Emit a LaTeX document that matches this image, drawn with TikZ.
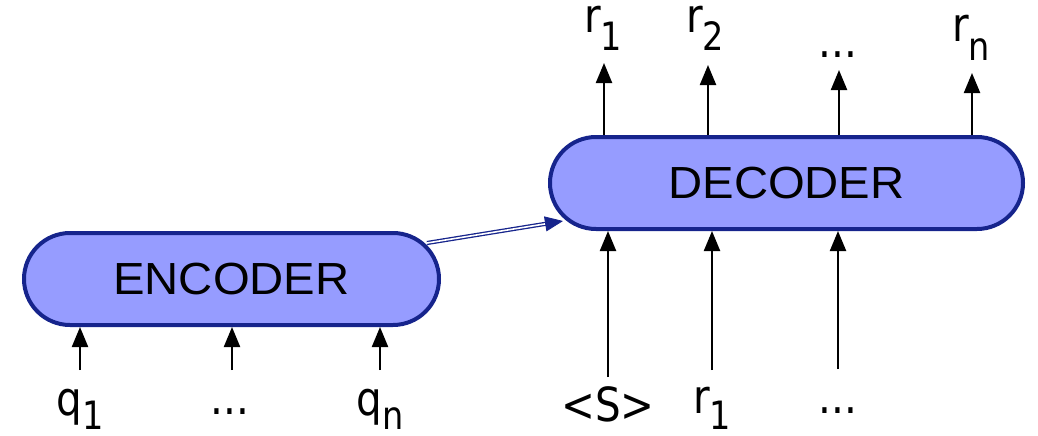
\documentclass[tikz,border=0pt]{standalone}
\usepackage{fontspec}
\usetikzlibrary{arrows.meta,calc}
\newfontfamily\lblfont[FakeStretch=0.86]{DejaVu Sans}
\newfontfamily\boxfont[FakeStretch=1.05]{Liberation Sans}
\definecolor{boxfill}{RGB}{150,156,255}
\definecolor{boxline}{RGB}{22,36,140}
% token with a lowered index
\newcommand{\tok}[3][18pt]{{\fontsize{47}{47}\selectfont #2}\raisebox{-#1}{\fontsize{39}{39}\selectfont #3}}
\newcommand{\dotsym}{{\fontsize{47}{47}\selectfont ...}}
\begin{document}
\begin{tikzpicture}[x=1pt,y=-1pt,
  pill/.style={draw=boxline, fill=boxfill, line width=4pt, rounded corners=46pt,
    minimum height=92pt, inner sep=0pt, font=\boxfont\fontsize{45}{45}\selectfont},
  lbl/.style={anchor=base, inner sep=0pt, font=\lblfont},
  arr/.style={-{Triangle[length=20pt,width=16pt]}, line width=2.2pt, black}]
\useasboundingbox (0,0) rectangle (1038,436);

% the two blocks
\node[pill, minimum width=415pt] (enc) at (231.5,279) {ENCODER};
\node[pill, minimum width=473pt] (dec) at (786.5,183) {DECODER};

% encoder inputs
\node[lbl] (q1) at (80,415) {\tok[14pt]{q}{1}};
\node[lbl] (qd) at (230,414) {\dotsym};
\node[lbl] (qn) at (380,415) {\tok[14pt]{q}{n}};
\coordinate (qa1) at (80,370);
\coordinate (qad) at (232,370);
\coordinate (qan) at (380,370);
\draw[arr] (qa1) -- (qa1 |- enc.south);
\draw[arr] (qad) -- (qad |- enc.south);
\draw[arr] (qan) -- (qan |- enc.south);

% decoder inputs
\node[lbl] (s0) at (608,421) {{\fontsize{47}{47}\selectfont <S>}};
\node[lbl] (ri1) at (712,413) {\tok[16pt]{r}{1}};
\node[lbl] (rid) at (838,413) {\dotsym};
\coordinate (da0) at (608,377);
\coordinate (da1) at (712,370);
\coordinate (dad) at (838,369);
\draw[arr] (da0) -- (da0 |- dec.south);
\draw[arr] (da1) -- (da1 |- dec.south);
\draw[arr] (dad) -- (dad |- dec.south);

% decoder outputs
\node[lbl] (ro1) at (603,33) {\tok{r}{1}};
\node[lbl] (ro2) at (705,33) {\tok{r}{2}};
\node[lbl] (rod) at (838,58) {\dotsym};
\node[lbl] (ron) at (971,42) {\tok{r}{n}};
\coordinate (ta1) at (604,63);
\coordinate (ta2) at (708,65);
\coordinate (tad) at (839,70);
\coordinate (tan) at (972,73);
\draw[arr] (ta1 |- dec.north) -- (ta1);
\draw[arr] (ta2 |- dec.north) -- (ta2);
\draw[arr] (tad |- dec.north) -- (tad);
\draw[arr] (tan |- dec.north) -- (tan);

% context passed from encoder to decoder
\coordinate (ctxa) at (427,243);
\coordinate (ctxb) at (563,221);
\draw[boxline, double=white, double distance=1.6pt, line width=1.3pt, shorten >=16pt] (ctxa) -- (ctxb);
\draw[boxline, line width=0.8pt, -{Triangle[length=18pt,width=15pt]}] ($(ctxb)!17pt!(ctxa)$) -- (ctxb);
\end{tikzpicture}
\end{document}
